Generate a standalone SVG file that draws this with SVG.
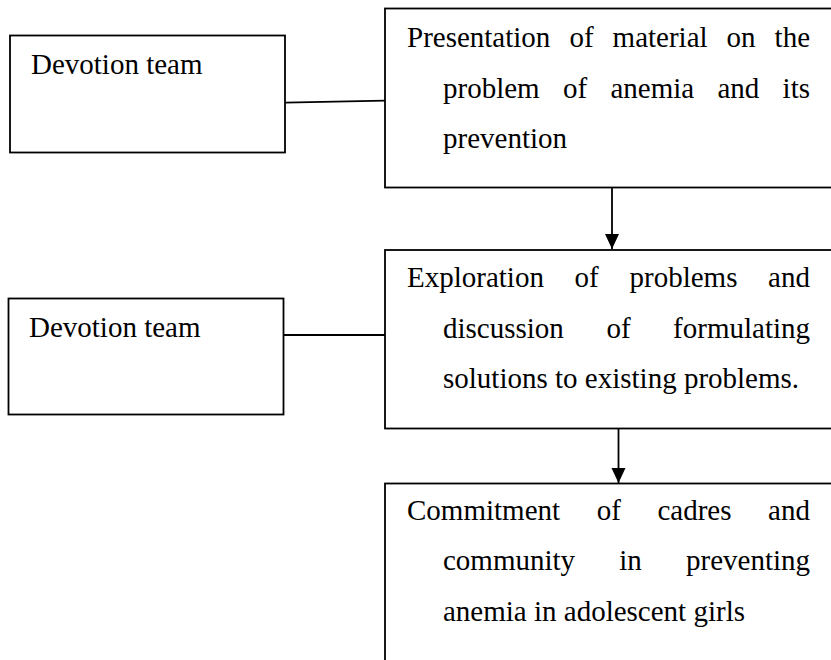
<svg xmlns="http://www.w3.org/2000/svg" width="831" height="660" viewBox="0 0 831 660">
<style>
.box{fill:#fff;stroke:#000;stroke-width:1.8}
.t{font-family:"Liberation Serif","Times New Roman",serif;font-size:29px;fill:#000}
.c{fill:none;stroke:#000;stroke-width:1.8}
</style>
<defs>
<marker id="ah" markerUnits="userSpaceOnUse" markerWidth="16" markerHeight="16" viewBox="0 0 16 16" refX="15" refY="8" orient="auto">
<path d="M0,1 L15,8 L0,15 Z" fill="#000"/>
</marker>
</defs>
<rect width="831" height="660" fill="#fff"/>
<g id="team1">
<rect class="box" x="10" y="35.5" width="275" height="117"/>
<text class="t" x="31" y="74">Devotion team</text>
</g>
<g id="team2">
<rect class="box" x="8.5" y="298.5" width="275" height="116"/>
<text class="t" x="29" y="337">Devotion team</text>
</g>
<g id="step1">
<rect class="box" x="385" y="8.5" width="460" height="179"/>
<text class="t" y="47"><tspan x="407">Presentation</tspan><tspan x="569.4">of</tspan><tspan x="612.6">material</tspan><tspan x="726.6">on</tspan><tspan x="774.6">the</tspan></text>
<text class="t" y="98"><tspan x="443">problem</tspan><tspan x="563">of</tspan><tspan x="610.4">anemia</tspan><tspan x="717.5">and</tspan><tspan x="782.6">its</tspan></text>
<text class="t" x="443" y="148">prevention</text>
</g>
<g id="step2">
<rect class="box" x="385" y="250" width="460" height="178.5"/>
<text class="t" y="287"><tspan x="407">Exploration</tspan><tspan x="574.6">of</tspan><tspan x="629.5">problems</tspan><tspan x="768.1">and</tspan></text>
<text class="t" y="338"><tspan x="443">discussion</tspan><tspan x="606.4">of</tspan><tspan x="673.1">formulating</tspan></text>
<text class="t" x="443" y="388">solutions to existing problems.</text>
</g>
<g id="step3">
<rect class="box" x="385" y="483.5" width="460" height="200"/>
<text class="t" y="520"><tspan x="407">Commitment</tspan><tspan x="596.7">of</tspan><tspan x="657.4">cadres</tspan><tspan x="768.1">and</tspan></text>
<text class="t" y="570"><tspan x="443">community</tspan><tspan x="619.3">in</tspan><tspan x="686">preventing</tspan></text>
<text class="t" x="443" y="621">anemia in adolescent girls</text>
</g>
<g id="connectors">
<line class="c" x1="285" y1="102.7" x2="385" y2="100.7"/>
<line class="c" x1="283.5" y1="335" x2="385" y2="335"/>
<line class="c" x1="612" y1="187.5" x2="612" y2="249" marker-end="url(#ah)"/>
<line class="c" x1="618.5" y1="428.5" x2="618.5" y2="483" marker-end="url(#ah)"/>
</g>
</svg>
